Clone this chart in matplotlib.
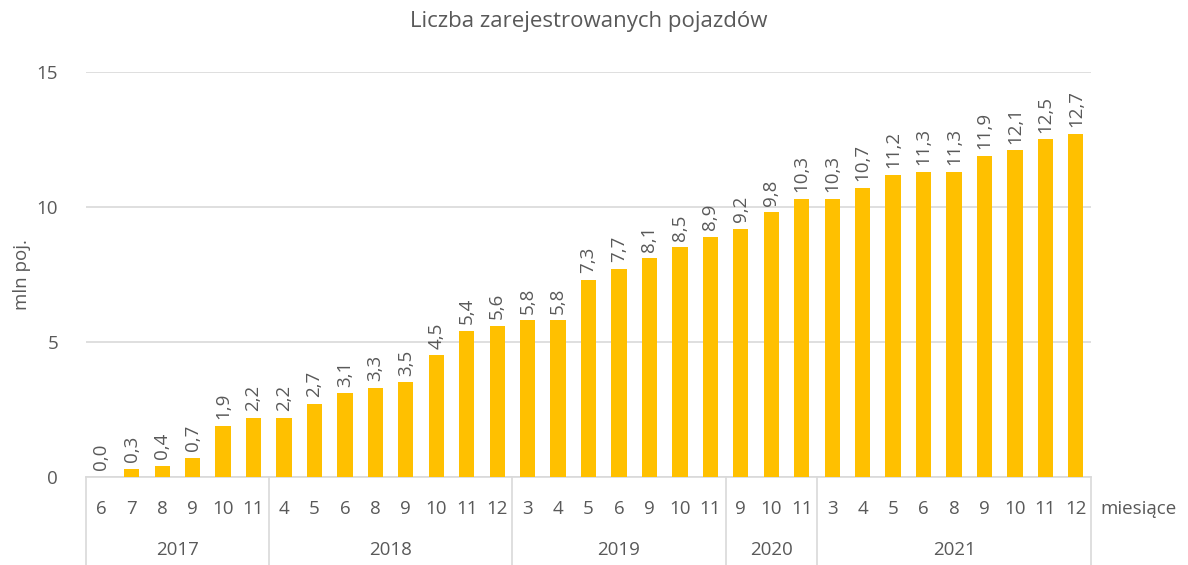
import matplotlib.pyplot as plt
import numpy as np

plt.rcParams['font.family'] = ['Open Sans', 'DejaVu Sans']

# data
years = ["2017", "2018", "2019", "2020", "2021"]
months = [
    ["6", "7", "8", "9", "10", "11"],
    ["4", "5", "6", "8", "9", "10", "11", "12"],
    ["3", "4", "5", "6", "9", "10", "11"],
    ["9", "10", "11"],
    ["3", "4", "5", "6", "8", "9", "10", "11", "12"],
]
values = [
    0.0, 0.3, 0.4, 0.7, 1.9, 2.2,
    2.2, 2.7, 3.1, 3.3, 3.5, 4.5, 5.4, 5.6,
    5.8, 5.8, 7.3, 7.7, 8.1, 8.5, 8.9,
    9.2, 9.8, 10.3,
    10.3, 10.7, 11.2, 11.3, 11.3, 11.9, 12.1, 12.5, 12.7,
]

text_col = "#595959"
grid_col = "#d9d9d9"
bar_col = "#ffc000"
fs = 13.5

month_labels = [m for grp in months for m in grp]
x = np.arange(len(values))

fig = plt.figure(figsize=(11.88, 5.65), dpi=100)
ax = fig.add_axes([0.0724, 0.1558, 0.846, 0.7168])

ax.bar(x, values, width=0.5, color=bar_col, zorder=3)
for xi, v in zip(x, values):
    ax.text(xi, v + 0.25, f"{v:.1f}".replace(".", ","), rotation=90,
            ha="center", va="bottom", fontsize=fs, color=text_col)

ax.set_xlim(-0.5, len(values) - 0.5)
ax.set_ylim(0, 15)
ax.set_yticks([0, 5, 10, 15])
ax.yaxis.grid(True, color=grid_col, linewidth=1.2, zorder=0)
ax.tick_params(axis="y", length=0, labelsize=fs, labelcolor=text_col, pad=20)
ax.set_xticks([])
for s in ["top", "right", "left"]:
    ax.spines[s].set_visible(False)
ax.spines["bottom"].set_color(grid_col)
ax.spines["bottom"].set_linewidth(1.2)

fig.text(22 / 1188, 1 - 275 / 565, "mln poj.", rotation=90, ha="center",
         va="center", fontsize=fs, color=text_col)
fig.text(0.5 * (86 + 1091) / 1188, 1 - 22 / 565, "Liczba zarejestrowanych pojazdów",
         ha="center", va="center", fontsize=16, color=text_col)

# month labels and year groups below the axis
trans = ax.get_xaxis_transform()
for xi, lab in zip(x, month_labels):
    ax.text(xi, -0.08, lab, transform=trans, ha="center", va="center",
            fontsize=fs, color=text_col)

start = 0
bounds = [-0.5]
for yr, grp in zip(years, months):
    end = start + len(grp)
    ax.text((start + end - 1) / 2, -0.18, yr, transform=trans, ha="center",
            va="center", fontsize=fs, color=text_col)
    bounds.append(end - 0.5)
    start = end
for b in bounds:
    ax.plot([b, b], [0, -0.22], transform=trans, color=grid_col,
            linewidth=1.2, clip_on=False)

ax.text(len(values) - 0.5 + 0.3, -0.08, "miesiące", transform=trans,
        ha="left", va="center", fontsize=fs, color=text_col)

fig.savefig("out.png", dpi=100)
